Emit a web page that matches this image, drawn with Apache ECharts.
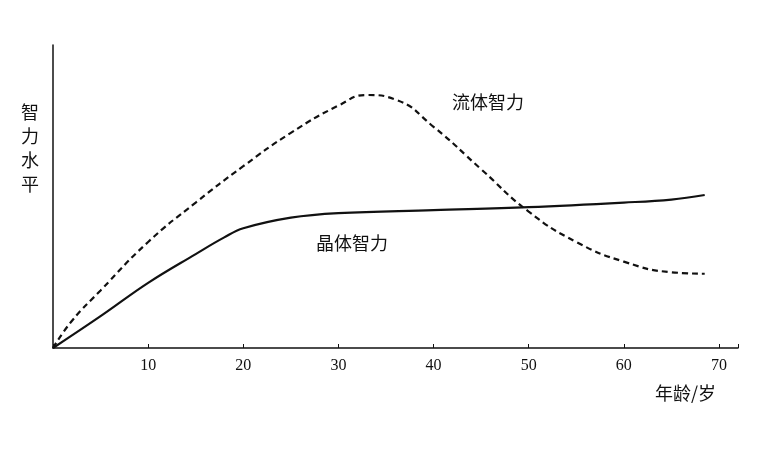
<!DOCTYPE html>
<html>
<head>
<meta charset="utf-8">
<script src="https://cdn.jsdelivr.net/npm/echarts@6/dist/echarts.min.js"></script>
<style>html,body{margin:0;padding:0;background:#fff}#chart{width:767px;height:449px}</style>
</head>
<body>
<div id="chart"></div>
<script>
// 年龄（岁）与智力水平
var fluidAge = [0, 2, 5, 10, 15, 20, 25, 30, 33, 36, 40, 45, 50, 55, 60, 65, 68.5];
var fluidLevel = [0, 9, 19, 35, 48, 60, 71, 80, 83.5, 82, 73, 59, 45, 35, 28.5, 25, 24.5];
var crystalAge = [0, 5, 10, 15, 18, 20, 25, 30, 40, 50, 60, 65, 68.5];
var crystalLevel = [0, 10.5, 21.5, 31, 36.5, 39.5, 43, 44.5, 45.5, 46.5, 48, 49, 50.5];
var xTicks = [10, 20, 30, 40, 50, 60, 70];

function pairs(xs, ys) {
  return xs.map(function (x, i) { return [x, ys[i]]; });
}

var chart = echarts.init(document.getElementById("chart"));
chart.setOption({
  animation: false,
  grid: { left: 53, right: 29, top: 45, bottom: 101 },
  xAxis: {
    type: "value", min: 0, max: 72, interval: 10,
    axisLine: { lineStyle: { color: "#111", width: 1.5 } },
    axisTick: { show: true, inside: true, length: 4, lineStyle: { color: "#111" } },
    axisLabel: {
      color: "#111", fontFamily: "Liberation Serif", fontSize: 16, margin: 10,
      formatter: function (v) { return xTicks.indexOf(v) >= 0 ? v : ""; }
    },
    splitLine: { show: false }
  },
  yAxis: {
    type: "value", min: 0, max: 100,
    axisLine: { show: true, lineStyle: { color: "#111", width: 1.5 } },
    axisTick: { show: false }, axisLabel: { show: false }, splitLine: { show: false }
  },
  series: [
    {
      type: "line", smooth: 0.5, showSymbol: false,
      data: pairs(fluidAge, fluidLevel),
      lineStyle: { color: "#111", width: 2.2, type: [6, 4] }
    },
    {
      type: "line", smooth: 0.4, showSymbol: false,
      data: pairs(crystalAge, crystalLevel),
      lineStyle: { color: "#111", width: 2.2 }
    }
  ],
  graphic: [
    { type: "text", left: 452, top: 93, style: { text: "流体智力", font: "18px 'Noto Sans CJK SC'", fill: "#111" } },
    { type: "text", left: 316, top: 234, style: { text: "晶体智力", font: "18px 'Noto Sans CJK SC'", fill: "#111" } },
    { type: "text", left: 21, top: 100, style: { text: "智\n力\n水\n平", font: "18px 'Noto Sans CJK SC'", lineHeight: 24, fill: "#111" } },
    { type: "text", left: 655, top: 384, style: { text: "年龄/岁", font: "18px 'Noto Sans CJK SC'", fill: "#111" } }
  ]
});
</script>
</body>
</html>
